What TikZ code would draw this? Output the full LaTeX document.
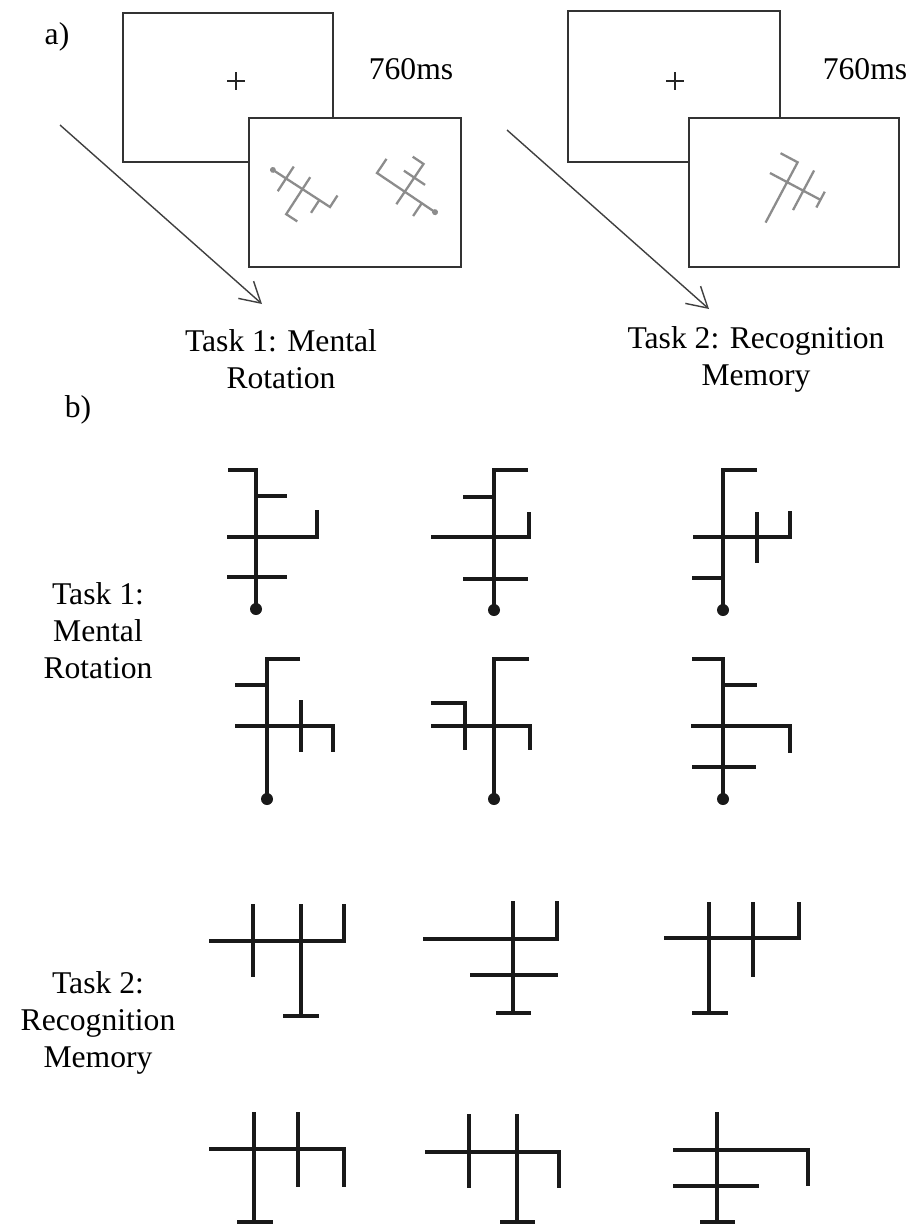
\documentclass[tikz,border=0pt]{standalone}
\usepackage{fontspec}
\setmainfont{Liberation Serif}
\usepackage{tikz}
\usetikzlibrary{arrows.meta}

% ---- the stimuli, drawn from the top of the stem (1 unit = 1 px, y down) ----
\newcommand{\stimRotA}{%
  \draw[stim] (-28,0) -- (0,0) -- (0,139) (0,26) -- (31,26)
              (-29,67) -- (61,67) -- (61,40) (-29,107) -- (31,107);
  \fill[stim] (0,139) circle[radius=6];}
\newcommand{\stimRotB}{%
  \draw[stim] (34,0) -- (0,0) -- (0,140) (-31,27) -- (0,27)
              (-63,67) -- (35,67) -- (35,42) (-31,109) -- (34,109);
  \fill[stim] (0,140) circle[radius=6];}
\newcommand{\stimRotC}{%
  \draw[stim] (34,0) -- (0,0) -- (0,140) (-30,67) -- (67,67) -- (67,41)
              (34,42) -- (34,93) (-31,108) -- (0,108);
  \fill[stim] (0,140) circle[radius=6];}
\newcommand{\stimRotD}{%
  \draw[stim] (33,0) -- (0,0) -- (0,140) (-32,26) -- (0,26)
              (-32,67) -- (66,67) -- (66,93) (34,41) -- (34,93);
  \fill[stim] (0,140) circle[radius=6];}
\newcommand{\stimRotE}{%
  \draw[stim] (35,0) -- (0,0) -- (0,140) (-63,44) -- (-29,44) -- (-29,91)
              (-63,67) -- (36,67) -- (36,91);
  \fill[stim] (0,140) circle[radius=6];}
\newcommand{\stimRotF}{%
  \draw[stim] (-31,0) -- (0,0) -- (0,140) (0,26) -- (34,26)
              (-32,67) -- (67,67) -- (67,94) (-31,108) -- (33,108);
  \fill[stim] (0,140) circle[radius=6];}
\newcommand{\stimMemA}{%
  \draw[stim] (0,0) -- (0,112) (-18,112) -- (18,112)
              (-92,37) -- (43,37) -- (43,0) (-48,0) -- (-48,73);}
\newcommand{\stimMemB}{%
  \draw[stim] (0,0) -- (0,112) (-17,112) -- (18,112)
              (-90,38) -- (44,38) -- (44,0) (-43,74) -- (45,74);}
\newcommand{\stimMemC}{%
  \draw[stim] (0,0) -- (0,111) (-17,111) -- (19,111)
              (-45,36) -- (90,36) -- (90,0) (44,0) -- (44,75);}
\newcommand{\stimMemD}{%
  \draw[stim] (0,0) -- (0,110) (-17,110) -- (19,110)
              (-45,37) -- (90,37) -- (90,75) (44,0) -- (44,75);}
\newcommand{\stimMemE}{%
  \draw[stim] (0,0) -- (0,108) (-17,108) -- (18,108)
              (-92,38) -- (42,38) -- (42,74) (-48,0) -- (-48,74);}
\newcommand{\stimMemF}{%
  \draw[stim] (0,0) -- (0,110) (-17,110) -- (18,110)
              (-44,38) -- (91,38) -- (91,74) (-44,74) -- (42,74);}

\begin{document}
\begin{tikzpicture}[
  x=0.2mm, y=-0.2mm,
  screen/.style={draw=black!80, line width=1.1pt, fill=white},
  fixcross/.style={line width=0.9pt, black!85},
  stim/.style={line width=1.9pt, black!90},
  onscreen/.style={stim/.style={line width=1.3pt, black!45}},
  timeline/.style={-{Straight Barb[length=4mm,width=4.6mm]}, line width=0.8pt, black!75},
  lbl/.style={font=\fontsize{18}{21}\selectfont, align=center, inner sep=0pt}]

\useasboundingbox (0,0) rectangle (912,1225);

% ---- a) the two trial sequences -----------------------------------------
\node[lbl] (parta) at (57,37) {a)};

% task 1
\draw[screen] (123,13) rectangle (333,162);
\draw[fixcross] (227,81) -- (245,81) (236,72) -- (236,90);
\draw[screen] (249,118) rectangle (461,267);
\begin{scope}[onscreen, shift={(330,207)}, rotate=-123, scale=0.49]
  \stimRotA
\end{scope}
\begin{scope}[onscreen, shift={(377,173)}, rotate=56, scale=0.5]
  \stimRotC
\end{scope}
\node[lbl] (timeA) at (411,69) {760ms};
\coordinate (tlA0) at (60,125);
\coordinate (tlA1) at (262,304);
\draw[timeline] (tlA0) -- (tlA1);
\node[lbl] (taskA) at (281,359) {Task 1: Mental\\Rotation};

% task 2
\draw[screen] (568,11) rectangle (780,162);
\draw[fixcross] (666,81) -- (684,81) (675,72) -- (675,90);
\draw[screen] (689,118) rectangle (899,267);
\begin{scope}[onscreen, shift={(770,173)}, rotate=62, scale=0.51]
  \stimMemB
\end{scope}
\node[lbl] (timeB) at (865,69) {760ms};
\coordinate (tlB0) at (507,130);
\coordinate (tlB1) at (709,309);
\draw[timeline] (tlB0) -- (tlB1);
\node[lbl] (taskB) at (756,359) {Task 2: Recognition\\Memory};

% ---- b) the stimulus sets -----------------------------------------------
\node[lbl] (partb) at (78,410) {b)};
\node[lbl] (rowA) at (98,631) {Task 1:\\Mental\\Rotation};
\node[lbl] (rowB) at (98,1023) {Task 2:\\Recognition\\Memory};

\foreach \shape/\px/\py in {\stimRotA/256/470, \stimRotB/494/470, \stimRotC/723/470,
                            \stimRotD/267/659, \stimRotE/494/659, \stimRotF/723/659,
                            \stimMemA/301/904, \stimMemB/513/901, \stimMemC/709/902,
                            \stimMemD/254/1112, \stimMemE/517/1114, \stimMemF/717/1112}{
  \begin{scope}[shift={(\px,\py)}]
    \shape
  \end{scope}
}

\end{tikzpicture}
\end{document}
